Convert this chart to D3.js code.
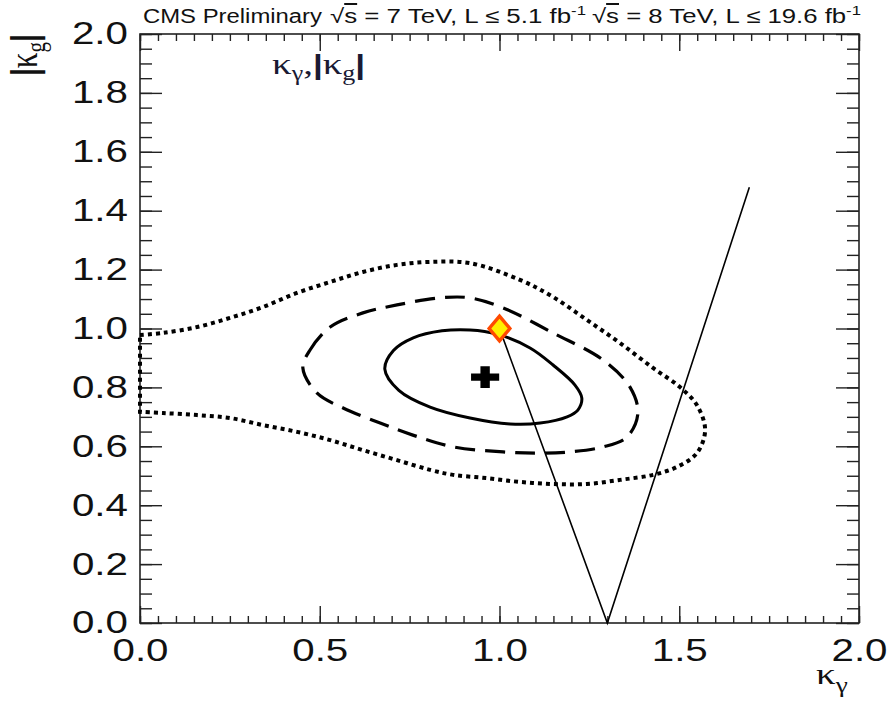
<!DOCTYPE html>
<html>
<head>
<meta charset="utf-8">
<script src="https://cdnjs.cloudflare.com/ajax/libs/d3/7.8.5/d3.min.js"></script>
<style>
  html, body { margin: 0; padding: 0; background: #fff; }
  svg { display: block; }
</style>
</head>
<body>
<div id="chart"></div>
<script>
// Contour points [kappa_gamma, |kappa_g|]
const contour68 = [
  [0.681, 0.862], [0.705, 0.925], [0.760, 0.968], [0.840, 0.992], [0.918, 0.995], [0.993, 0.981],
  [1.085, 0.934], [1.149, 0.876], [1.210, 0.808], [1.229, 0.764], [1.218, 0.723],
  [1.188, 0.700], [1.113, 0.679], [1.029, 0.676], [0.918, 0.696], [0.807, 0.733],
  [0.720, 0.790]
];
const contour95 = [
  [0.453, 0.866], [0.473, 0.927], [0.529, 1.005], [0.620, 1.053], [0.715, 1.080],
  [0.834, 1.104], [0.918, 1.104], [1.010, 1.070], [1.149, 0.985], [1.288, 0.893],
  [1.363, 0.801], [1.385, 0.713], [1.355, 0.632], [1.288, 0.598], [1.196, 0.581],
  [1.104, 0.577], [1.010, 0.581], [0.871, 0.598], [0.759, 0.638], [0.668, 0.679],
  [0.565, 0.730], [0.492, 0.781]
];
const contour997 = [
  [0.000, 0.978], [0.064, 0.985], [0.159, 1.005], [0.250, 1.036], [0.342, 1.073],
  [0.437, 1.121], [0.529, 1.158], [0.620, 1.192], [0.715, 1.216], [0.807, 1.226],
  [0.918, 1.222], [1.057, 1.165], [1.149, 1.107], [1.243, 1.029], [1.335, 0.951],
  [1.427, 0.866], [1.502, 0.801], [1.549, 0.740], [1.572, 0.655], [1.549, 0.577],
  [1.494, 0.530], [1.427, 0.503], [1.335, 0.486], [1.243, 0.472], [1.149, 0.472],
  [1.057, 0.479], [0.965, 0.492], [0.871, 0.503], [0.807, 0.520], [0.715, 0.553],
  [0.620, 0.587], [0.529, 0.621], [0.437, 0.649], [0.342, 0.672], [0.250, 0.696],
  [0.159, 0.706], [0.064, 0.713], [0.000, 0.717]
];
const bestFit = [0.960, 0.835];
const smPoint = [1.0, 1.0];
const vLine = [[1.0, 1.0], [1.3, 0.0], [1.695, 1.48]];

const xMajor = [0, 0.5, 1.0, 1.5, 2.0];
const yMajor = [0, 0.2, 0.4, 0.6, 0.8, 1.0, 1.2, 1.4, 1.6, 1.8, 2.0];
const xMinor = d3.range(0, 2.001, 0.05);
const yMinor = d3.range(0, 2.001, 0.05);

const titleParts = ["CMS Preliminary", ["7", "5.1"], ["8", "19.6"]];

(() => {
    const styles = {
        sans: "'Liberation Sans', Arial, Helvetica, sans-serif",
        serif: "'Liberation Serif', 'Times New Roman', serif",
        ink: "#111",
        stretch: "scale(1.3,1)"
    };

    const width = 889, height = 709;
    const margin = { top: 34, right: 30, bottom: 86, left: 140 };

    const svg = d3.select("#chart").append("svg")
        .attr("width", width)
        .attr("height", height)
        .style("background", "#fff");

    const x = d3.scaleLinear().domain([0, 2]).range([margin.left, width - margin.right]);
    const y = d3.scaleLinear().domain([0, 2]).range([height - margin.bottom, margin.top]);

    const fmt = d3.format(".1f");
    const strip = g => g.select(".domain").remove();

    // ticks, ROOT style (inside the frame, on all four sides)
    const axes = svg.append("g").attr("stroke-width", 1.4);
    axes.append("g").attr("transform", `translate(0,${y(0)})`)
        .call(d3.axisBottom(x).tickValues(xMinor).tickSize(-7).tickFormat("")).call(strip);
    axes.append("g").attr("transform", `translate(0,${y(2)})`)
        .call(d3.axisTop(x).tickValues(xMinor).tickSize(-7).tickFormat("")).call(strip);
    axes.append("g").attr("transform", `translate(0,${y(2)})`)
        .call(d3.axisTop(x).tickValues(xMajor).tickSize(-17).tickFormat("")).call(strip);
    axes.append("g").attr("transform", `translate(${x(0)},0)`)
        .call(d3.axisLeft(y).tickValues(yMinor).tickSize(-12).tickFormat("")).call(strip);
    axes.append("g").attr("transform", `translate(${x(2)},0)`)
        .call(d3.axisRight(y).tickValues(yMinor).tickSize(-12).tickFormat("")).call(strip);
    axes.append("g").attr("transform", `translate(${x(2)},0)`)
        .call(d3.axisRight(y).tickValues(yMajor).tickSize(-23).tickFormat("")).call(strip);

    const xAxis = axes.append("g").attr("transform", `translate(0,${y(0)})`)
        .call(d3.axisBottom(x).tickValues(xMajor).tickSize(-17).tickPadding(16).tickFormat(fmt)).call(strip);
    const yAxis = axes.append("g").attr("transform", `translate(${x(0)},0)`)
        .call(d3.axisLeft(y).tickValues(yMajor).tickSize(-22).tickPadding(9.3).tickFormat(fmt)).call(strip);

    [xAxis, yAxis].forEach(g => {
        g.attr("font-family", styles.sans).attr("font-size", 31);
        g.selectAll("text").attr("fill", styles.ink).attr("transform", styles.stretch);
    });
    axes.selectAll("line").attr("stroke", "#222");

    // frame
    svg.append("rect")
        .attr("x", x(0)).attr("y", y(2))
        .attr("width", x(2) - x(0)).attr("height", y(0) - y(2))
        .attr("fill", "none").attr("stroke", "#222").attr("stroke-width", 1.6);

    // contours
    const closed = d3.line().x(d => x(d[0])).y(d => y(d[1])).curve(d3.curveCatmullRomClosed.alpha(0.5));
    const open = d3.line().x(d => x(d[0])).y(d => y(d[1])).curve(d3.curveCatmullRom.alpha(0.5));

    svg.append("path").attr("d", open(contour997) + "Z")
        .attr("fill", "none").attr("stroke", "#000").attr("stroke-width", 4)
        .attr("stroke-dasharray", "4,4");
    svg.append("path").attr("d", closed(contour95))
        .attr("fill", "none").attr("stroke", "#000").attr("stroke-width", 3.2)
        .attr("stroke-dasharray", "20,10");
    svg.append("path").attr("d", closed(contour68))
        .attr("fill", "none").attr("stroke", "#000").attr("stroke-width", 3);

    // V line
    svg.append("path").attr("d", d3.line().x(d => x(d[0])).y(d => y(d[1]))(vLine))
        .attr("fill", "none").attr("stroke", "#000").attr("stroke-width", 1.6);

    // best fit cross
    svg.append("path")
        .attr("d", d3.symbol(d3.symbolCross, 260)())
        .attr("transform", `translate(${x(bestFit[0])},${y(bestFit[1])}) scale(1.3,1)`)
        .attr("fill", "#000");

    // SM point
    svg.append("path")
        .attr("d", d3.symbol(d3.symbolSquare, 215)())
        .attr("transform", `translate(${x(smPoint[0])},${y(smPoint[1])}) scale(1,1.2) rotate(45)`)
        .attr("fill", "#ffee00").attr("stroke", "#ff4a00").attr("stroke-width", 3.4)
        .attr("vector-effect", "non-scaling-stroke");

    // header
    const head = svg.append("g").attr("font-family", styles.sans).attr("fill", styles.ink);
    head.append("text").attr("x", 143).attr("y", 23).attr("font-size", 20)
        .attr("textLength", 179).attr("lengthAdjust", "spacingAndGlyphs")
        .text(titleParts[0]);
    const energyLabel = (x0, len, [e, lumi]) => {
        const t = head.append("text").attr("x", x0).attr("y", 23).attr("font-size", 20)
            .attr("textLength", len).attr("lengthAdjust", "spacingAndGlyphs");
        t.append("tspan").text("√");
        t.append("tspan").attr("text-decoration", "overline").text("s");
        t.append("tspan").text(` = ${e} TeV, L ≤ ${lumi} fb`);
        t.append("tspan").attr("font-size", 13).attr("dy", -8).text("-1");
    };
    energyLabel(330, 256, titleParts[1]);
    energyLabel(592, 269, titleParts[2]);

    // in-frame label
    const lab = svg.append("text").attr("transform", `translate(272,74) ${styles.stretch}`)
        .attr("font-family", styles.serif).attr("font-size", 30).attr("fill", "#1a1a33");
    lab.append("tspan").text("κ");
    lab.append("tspan").attr("font-size", 20).attr("dy", 6).text("γ");
    lab.append("tspan").attr("dy", -6).text(",");
    lab.append("tspan").attr("font-family", styles.sans).attr("font-weight", "bold").attr("font-size", 27).text("|");
    lab.append("tspan").text("κ");
    lab.append("tspan").attr("font-size", 20).attr("dy", 6).text("g");
    lab.append("tspan").attr("dy", -6).attr("font-family", styles.sans).attr("font-weight", "bold").attr("font-size", 27).text("|");

    // x title
    const xt = svg.append("text").attr("transform", `translate(816,684) ${styles.stretch}`)
        .attr("font-family", styles.serif).attr("font-size", 30).attr("fill", styles.ink);
    xt.append("tspan").text("κ");
    xt.append("tspan").attr("font-size", 21).attr("dy", 8).text("γ");

    // y title
    const yt = svg.append("text").attr("transform", `translate(37,76) ${styles.stretch} rotate(-90)`)
        .attr("font-family", styles.serif).attr("font-size", 31).attr("fill", styles.ink);
    yt.append("tspan").attr("font-family", styles.sans).attr("font-weight", "bold").attr("font-size", 28).text("|");
    yt.append("tspan").text("κ");
    yt.append("tspan").attr("font-size", 21).attr("dy", 6).text("g");
    yt.append("tspan").attr("dy", -6).attr("font-family", styles.sans).attr("font-weight", "bold").attr("font-size", 28).text("|");
})();
</script>
</body>
</html>
